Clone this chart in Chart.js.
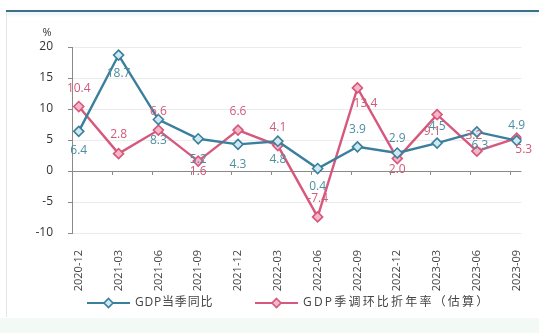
<!DOCTYPE html>
<html>
<head>
<meta charset="utf-8">
<script src="https://cdn.jsdelivr.net/npm/chart.js@4"></script>
<style>
  html, body { margin: 0; padding: 0; background: #fff; }
  #wrap { position: relative; width: 539px; height: 333px; overflow: hidden; background: #fff; }
  #topline { position: absolute; left: 6px; right: 0; top: 10px; height: 2px; background: #3f6f85; box-shadow: 0 2px 4px #cfe6f3; }
  #leftline { position: absolute; left: 6px; top: 12px; width: 1px; bottom: 16px; background: #e4e4e4; }
  #band { position: absolute; left: 0; right: 0; bottom: 0; height: 15px; background: #f3faf5; }
  canvas { position: absolute; left: 0; top: 0; }
</style>
</head>
<body>
<div id="wrap">
  <div id="topline"></div>
  <div id="leftline"></div>
  <div id="band"></div>
  <canvas id="myChart" width="539" height="333"></canvas>
</div>
<script>
// quarters
const quarters = ["2020-12", "2021-03", "2021-06", "2021-09", "2021-12", "2022-03",
                  "2022-06", "2022-09", "2022-12", "2023-03", "2023-06", "2023-09"];
// GDP 当季同比
const yoy = [6.4, 18.7, 8.3, 5.2, 4.3, 4.8, 0.4, 3.9, 2.9, 4.5, 6.3, 4.9];
// GDP 季调环比折年率（估算）
const qoqAnn = [10.4, 2.8, 6.6, 1.6, 6.6, 4.1, -7.4, 13.4, 2.0, 9.1, 3.2, 5.3];
const yTicks = [-10, -5, 0, 5, 10, 15, 20];
const seriesNames = ["GDP当季同比", "GDP季调环比折年率（估算）"];

// label nudges in px [dx, dy]
const yoyLabelPos = [[0, 19], [0, 19], [0, 21], [0, 21], [0, 20], [0, 18],
                     [0, 18], [0, -17], [0, -14], [0, -17], [3, 14], [0, -15]];
const qoqLabelPos = [[0, -18], [0, -19], [0, -19], [0, 10], [0, -19], [0, -18],
                     [0, -18], [8, 16], [0, 11], [-5, 17], [-3, -16], [7, 11]];

const blue = "#3a7f9b";
const blueFill = "#cfe9f2";
const red = "#d6587d";
const redFill = "#f5b8c8";
const FONT = "'Open Sans', 'Noto Sans CJK SC', sans-serif";

const valueLabels = {
  id: "valueLabels",
  afterDatasetsDraw(chart) {
    const ctx = chart.ctx;
    const sets = [[0, yoyLabelPos, "#4d8fa0"], [1, qoqLabelPos, "#cf5a7a"]];
    ctx.save();
    ctx.font = "12px " + FONT;
    ctx.textAlign = "center";
    ctx.textBaseline = "middle";
    sets.forEach(([di, pos, col]) => {
      const meta = chart.getDatasetMeta(di);
      const vals = chart.data.datasets[di].data;
      ctx.fillStyle = col;
      meta.data.forEach((pt, i) => {
        ctx.fillText(vals[i].y.toFixed(1), pt.x + pos[i][0], pt.y + pos[i][1]);
      });
    });
    ctx.restore();
  }
};

// zero line ticks and the "%" unit
const axisExtras = {
  id: "axisExtras",
  afterDraw(chart) {
    const ctx = chart.ctx;
    const x = chart.scales.x, y = chart.scales.y;
    const y0 = y.getPixelForValue(0);
    ctx.save();
    ctx.strokeStyle = "#8a8a8a";
    ctx.lineWidth = 1;
    ctx.beginPath();
    for (let i = 1; i < quarters.length; i++) {
      const px = Math.round(x.getPixelForValue(i - 0.17)) + 0.5;
      ctx.moveTo(px, y0); ctx.lineTo(px, y0 + 4);
    }
    ctx.stroke();
    ctx.fillStyle = "#333";
    ctx.font = "11px " + FONT;
    ctx.textAlign = "center";
    ctx.fillText("%", chart.chartArea.left - 25, y.getPixelForValue(20) - 11);
    ctx.restore();
  }
};

// legend: line sample with a diamond, then the series name
const lineLegend = {
  id: "lineLegend",
  afterDraw(chart) {
    const ctx = chart.ctx;
    const items = [
      { x: 87, spacing: "0.8px" },
      { x: 255, spacing: "2.2px" }
    ];
    const cy = 303;
    ctx.save();
    chart.data.datasets.forEach((ds, i) => {
      const x0 = items[i].x;
      ctx.strokeStyle = ds.borderColor;
      ctx.lineWidth = 2.2;
      ctx.beginPath(); ctx.moveTo(x0, cy); ctx.lineTo(x0 + 43, cy); ctx.stroke();
      const cx = x0 + 21.5;
      ctx.fillStyle = ds.pointBackgroundColor;
      ctx.lineWidth = 1.6;
      ctx.beginPath();
      ctx.moveTo(cx, cy - 4.5); ctx.lineTo(cx + 4.5, cy); ctx.lineTo(cx, cy + 4.5); ctx.lineTo(cx - 4.5, cy);
      ctx.closePath(); ctx.fill(); ctx.stroke();
      ctx.letterSpacing = items[i].spacing;
      ctx.fillStyle = "#444";
      ctx.font = "12px " + FONT;
      ctx.textAlign = "left";
      ctx.textBaseline = "middle";
      ctx.fillText(ds.label, x0 + 48, cy);
      ctx.letterSpacing = "0px";
    });
    ctx.restore();
  }
};

new Chart(document.getElementById("myChart"), {
  type: "line",
  data: {
    datasets: [
      {
        label: seriesNames[0],
        data: yoy.map((v, i) => ({ x: i, y: v })),
        borderColor: blue,
        borderWidth: 2.4,
        pointStyle: "rectRot",
        pointRadius: 5,
        pointBorderWidth: 1.6,
        pointBorderColor: blue,
        pointBackgroundColor: blueFill,
        tension: 0
      },
      {
        label: seriesNames[1],
        data: qoqAnn.map((v, i) => ({ x: i, y: v })),
        borderColor: red,
        borderWidth: 2.4,
        pointStyle: "rectRot",
        pointRadius: 5,
        pointBorderWidth: 1.6,
        pointBorderColor: red,
        pointBackgroundColor: redFill,
        tension: 0
      }
    ]
  },
  options: {
    responsive: false,
    animation: false,
    layout: { padding: { top: 47, left: 10, right: 9, bottom: 38 } },
    scales: {
      x: {
        type: "linear",
        min: -0.17,
        max: 11.12,
        afterBuildTicks(scale) {
          scale.ticks = quarters.map((_, i) => ({ value: i }));
        },
        afterFit(scale) { scale.height = 62; },
        grid: { display: false },
        border: { display: false },
        ticks: {
          autoSkip: false,
          minRotation: 90,
          maxRotation: 90,
          padding: 9,
          color: "#444",
          font: { family: FONT, size: 11 },
          callback: (v) => quarters[v]
        }
      },
      y: {
        min: -10,
        max: 20,
        afterBuildTicks(scale) {
          scale.ticks = yTicks.map(v => ({ value: v }));
        },
        afterFit(scale) { scale.width = 62; },
        grid: {
          color: (c) => c.tick && c.tick.value === 0 ? "#8a8a8a" : "#ececec",
          tickColor: "#8a8a8a",
          tickLength: 4,
          lineWidth: 1
        },
        border: { display: true, color: "#8a8a8a", width: 1 },
        ticks: {
          padding: 15,
          color: "#333",
          font: { family: FONT, size: 12 }
        }
      }
    },
    plugins: {
      legend: { display: false },
      tooltip: { enabled: false }
    }
  },
  plugins: [valueLabels, axisExtras, lineLegend]
});
</script>
</body>
</html>
